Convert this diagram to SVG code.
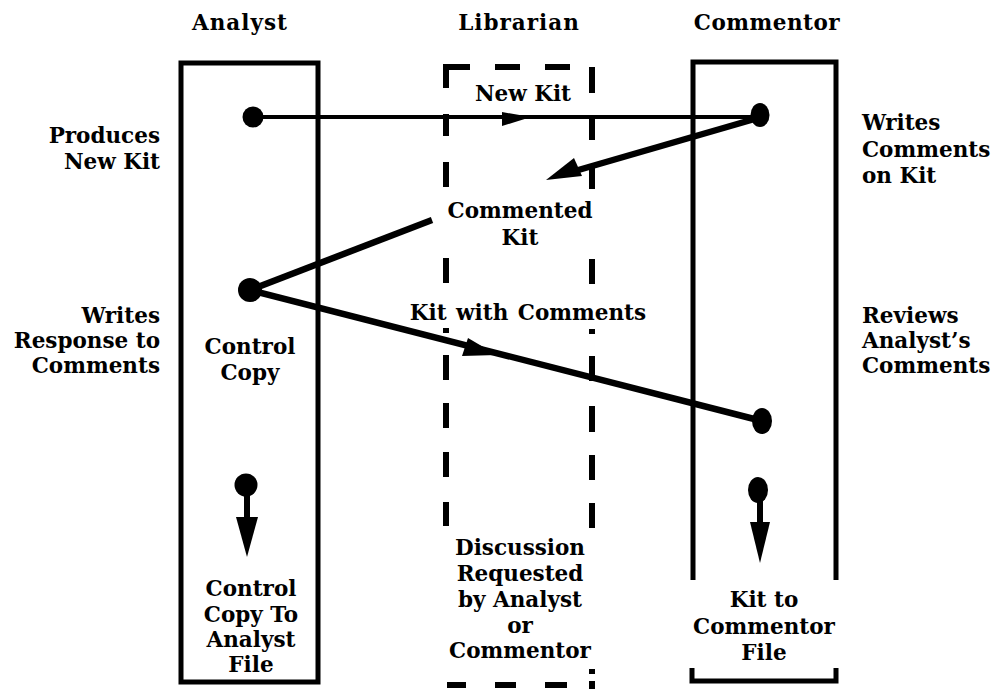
<svg xmlns="http://www.w3.org/2000/svg" width="998" height="689" viewBox="0 0 998 689">
<style>
text{font-family:"DejaVu Serif","Liberation Serif",serif;font-weight:bold;font-size:21.5px;fill:#000}
.c{text-anchor:middle}
.e{text-anchor:end}
.box{fill:none;stroke:#000;stroke-width:5}
.dash{stroke:#000;stroke-width:6;stroke-linecap:butt;fill:none}
.thin{stroke:#000;stroke-width:4;fill:none}
.thick{stroke:#000;stroke-width:6.5;fill:none}
.dot{fill:#000}
</style>
<rect width="998" height="689" fill="#fff"/>

<g id="analyst">
  <text class="c" x="240" y="30" letter-spacing="1">Analyst</text>
  <rect class="box" x="181" y="63" width="137" height="619"/>
  <text class="e" x="160" y="143">Produces</text>
  <text class="e" x="160" y="169">New Kit</text>
  <text class="e" x="160" y="323">Writes</text>
  <text class="e" x="160" y="348">Response to</text>
  <text class="e" x="160" y="373">Comments</text>
  <text class="c" x="250" y="354">Control</text>
  <text class="c" x="250" y="380">Copy</text>
  <text class="c" x="251" y="596">Control</text>
  <text class="c" x="251" y="622">Copy To</text>
  <text class="c" x="251" y="647">Analyst</text>
  <text class="c" x="251" y="672">File</text>
</g>

<g id="librarian">
  <text class="c" x="519" y="30" letter-spacing="1">Librarian</text>
  <path class="dash" d="M446,88 V67 H470 M495,67 H520 M545,67 H570 M592,67 V93"/>
  <path class="dash" d="M446,114 V136 M446,162 V187 M446,258 V283 M446,328 V333 M446,355 V380 M446,403 V428 M446,452 V477 M446,502 V526"/>
  <path class="dash" d="M592,115 V140 M592,166 V189 M592,259 V284 M592,329 V334 M592,356 V381 M592,406 V432 M592,455 V480 M592,503 V528 M592,669 V674 M592,681 V689"/>
  <path class="dash" d="M447,685 H466 M495,685 H516 M545,685 H567"/>
  <text class="c" x="520" y="555">Discussion</text>
  <text class="c" x="520" y="581">Requested</text>
  <text class="c" x="520" y="607">by Analyst</text>
  <text class="c" x="520" y="633">or</text>
  <text class="c" x="520" y="658">Commentor</text>
</g>

<g id="commentor">
  <text class="c" x="767" y="30" letter-spacing="0.5">Commentor</text>
  <path class="box" d="M693,580 V62 H836 V580"/>
  <path class="box" d="M692,668 V681 H836 V668"/>
  <text x="862" y="130">Writes</text>
  <text x="862" y="157">Comments</text>
  <text x="862" y="183">on Kit</text>
  <text x="862" y="323">Reviews</text>
  <text x="862" y="348">Analyst’s</text>
  <text x="862" y="373">Comments</text>
  <text class="c" x="764" y="607">Kit to</text>
  <text class="c" x="764" y="634">Commentor</text>
  <text class="c" x="764" y="660">File</text>
</g>

<g id="connectors">
  <!-- New Kit -->
  <line class="thin" x1="253" y1="117" x2="758" y2="117"/>
  <polygon points="502,112 531,117 502,126" fill="#000"/>
  <text class="c" x="523" y="101">New Kit</text>
  <!-- Commented Kit -->
  <line class="thick" x1="758" y1="118" x2="568" y2="173"/>
  <polygon points="546,180 574,158 582,176" fill="#000"/>
  <text class="c" x="520" y="218">Commented</text>
  <text class="c" x="520" y="245">Kit</text>
  <line class="thick" x1="432" y1="220" x2="250" y2="290"/>
  <!-- Kit with Comments -->
  <line class="thick" x1="250" y1="290" x2="762" y2="421"/>
  <polygon points="497,355 468,338 462,356" fill="#000"/>
  <text class="c" x="528" y="320" word-spacing="2">Kit with Comments</text>
  <!-- dots -->
  <circle class="dot" cx="253" cy="117" r="10.5"/>
  <ellipse class="dot" cx="760" cy="115" rx="9.5" ry="12"/>
  <circle class="dot" cx="250" cy="290" r="12"/>
  <ellipse class="dot" cx="762" cy="421" rx="10" ry="13"/>
  <!-- file arrows -->
  <circle class="dot" cx="246" cy="485" r="11.5"/>
  <line stroke="#000" stroke-width="6" x1="247" y1="495" x2="247" y2="520"/>
  <polygon points="236,517 258,517 247,557" fill="#000"/>
  <ellipse class="dot" cx="758" cy="490" rx="10" ry="13"/>
  <line stroke="#000" stroke-width="6" x1="760" y1="500" x2="760" y2="525"/>
  <polygon points="750,522 770,522 760,563" fill="#000"/>
</g>
</svg>
